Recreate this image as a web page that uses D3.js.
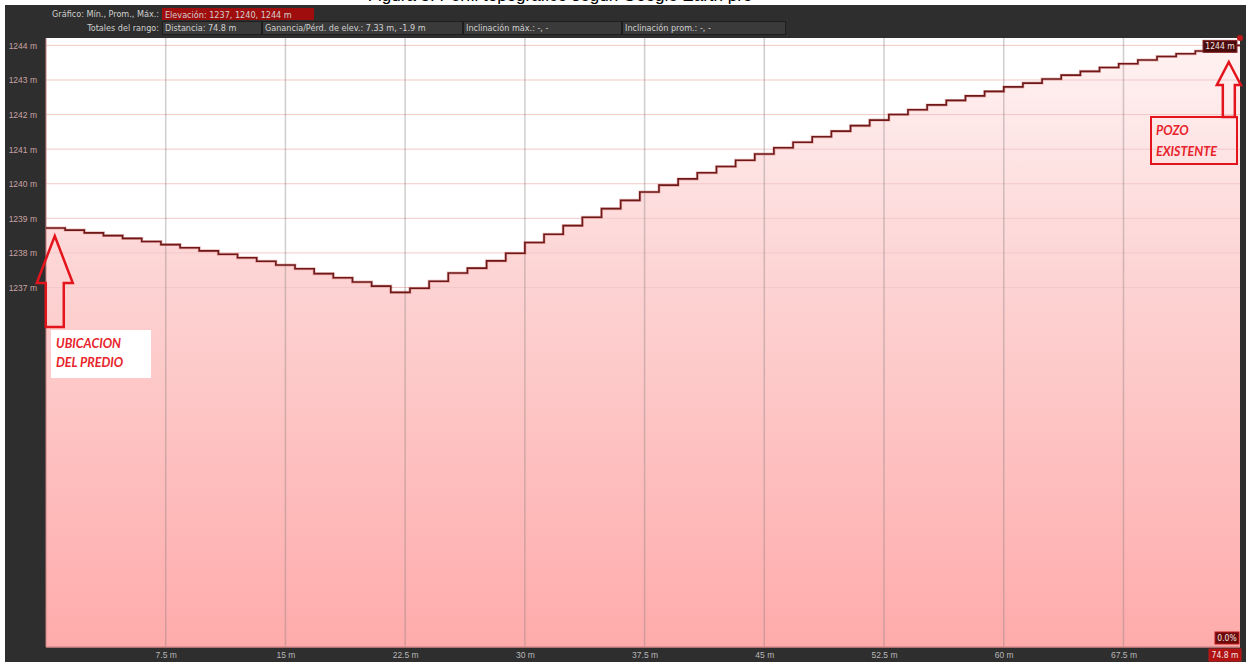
<!DOCTYPE html>
<html>
<head>
<meta charset="utf-8">
<script src="https://cdn.jsdelivr.net/npm/d3@7/dist/d3.min.js"></script>
<style>
  body { margin: 0; background: #fff; }
  svg { display: block; font-family: "Liberation Sans Narrow", "DejaVu Sans Condensed", "Liberation Sans", sans-serif; }
  .hdr { fill: #d0d0d0; font-size: 9px; }
  .tick text { font-size: 8.5px; }
</style>
</head>
<body>
<svg id="chart" width="1246" height="662"></svg>
<script>
// profile samples: distance (m) and elevation (m)
const distances = [0, 1.2, 2.4, 3.6, 4.8, 6.0, 7.2, 8.4, 9.6, 10.8, 12.0, 13.2, 14.4, 15.6, 16.8, 18.0, 19.2, 20.4, 21.6,
  22.8, 24.0, 25.2, 26.4, 27.6, 28.8, 30.0, 31.2, 32.4, 33.6, 34.8, 36.0, 37.2, 38.4, 39.6, 40.8, 42.0, 43.2, 44.4,
  45.6, 46.8, 48.0, 49.2, 50.4, 51.6, 52.8, 54.0, 55.2, 56.4, 57.6, 58.8, 60.0, 61.2, 62.4, 63.6, 64.8, 66.0, 67.2,
  68.4, 69.6, 70.8, 72.0, 73.2, 74.4, 74.8];
const elevations = [1238.72, 1238.66, 1238.58, 1238.50, 1238.42, 1238.33, 1238.24, 1238.15, 1238.06, 1237.96, 1237.86,
  1237.76, 1237.65, 1237.54, 1237.40, 1237.28, 1237.16, 1237.04, 1236.86,
  1236.98, 1237.18, 1237.42, 1237.56, 1237.77, 1237.99, 1238.30, 1238.54, 1238.79, 1239.03, 1239.28, 1239.52, 1239.76,
  1239.96, 1240.14, 1240.32, 1240.50, 1240.68, 1240.86, 1241.04, 1241.20, 1241.36, 1241.52, 1241.68, 1241.84, 1242.00,
  1242.14, 1242.28, 1242.41, 1242.54, 1242.67, 1242.80, 1242.91, 1243.03, 1243.14, 1243.25, 1243.36, 1243.47, 1243.58,
  1243.68, 1243.76, 1243.84, 1243.92, 1244.00, 1244.00];

const xTicks = [7.5, 15, 22.5, 30, 37.5, 45, 52.5, 60, 67.5];
const yTicks = [1237, 1238, 1239, 1240, 1241, 1242, 1243, 1244];
const totalDist = 74.8;

const headerRow1 = [{ text: 'Elevación: 1237, 1240, 1244 m', w: 152 }];
const headerRow2 = [
  { text: 'Distancia: 74.8 m', w: 100 },
  { text: 'Ganancia/Pérd. de elev.: 7.33 m, -1.9 m', w: 201 },
  { text: 'Inclinación máx.: -, -', w: 159 },
  { text: 'Inclinación prom.: -, -', w: 164 }
];

const W = 1246, H = 662;
const plotL = 46, plotR = 1240, plotT = 38, plotB = 647;

const svg = d3.select('#chart');
const data = distances.map((d, i) => ({ d: d, e: elevations[i] }));

// dark frame
svg.append('rect').attr('x', 5).attr('y', 5).attr('width', W - 5).attr('height', H - 5).attr('fill', '#2e2e2e');

// title, cut by the top edge as in the source image
svg.append('text')
  .attr('x', 560).attr('y', 1)
  .attr('text-anchor', 'middle')
  .style('font-family', 'Liberation Sans, sans-serif')
  .style('font-size', '17px')
  .attr('fill', '#000')
  .text('Figura 3. Perfil topográfico según Google Earth pro');

const x = d3.scaleLinear().domain([0, totalDist]).range([plotL, plotR]);
const y = d3.scaleLinear().domain([1237, 1244]).range([287.5, 45.4]);

const defs = svg.append('defs');
const grad = defs.append('linearGradient')
  .attr('id', 'fillGrad')
  .attr('gradientUnits', 'userSpaceOnUse')
  .attr('x1', 0).attr('y1', plotT).attr('x2', 0).attr('y2', plotB);
grad.append('stop').attr('offset', '0%').attr('stop-color', '#fff3f3');
grad.append('stop').attr('offset', '40%').attr('stop-color', '#fdd3d3');
grad.append('stop').attr('offset', '100%').attr('stop-color', '#ffabab');

// plot background
svg.append('rect')
  .attr('x', plotL).attr('y', plotT)
  .attr('width', plotR - plotL).attr('height', plotB - plotT)
  .attr('fill', '#fff');

// area under profile
const area = d3.area()
  .x(d => x(d.d))
  .y0(plotB)
  .y1(d => y(d.e))
  .curve(d3.curveStepAfter);
svg.append('path').datum(data).attr('d', area).attr('fill', 'url(#fillGrad)');

// horizontal grid
svg.append('g')
  .selectAll('line')
  .data(yTicks)
  .enter()
  .append('line')
  .attr('x1', plotL).attr('x2', plotR)
  .attr('y1', d => y(d)).attr('y2', d => y(d))
  .attr('stroke', '#f3c8c8')
  .attr('stroke-width', 1);

// vertical grid
svg.append('g')
  .selectAll('line')
  .data(xTicks)
  .enter()
  .append('line')
  .attr('x1', d => x(d)).attr('x2', d => x(d))
  .attr('y1', plotT).attr('y2', plotB)
  .attr('stroke', 'rgba(140,130,130,0.4)')
  .attr('stroke-width', 1.5);

// plot edges
svg.append('line').attr('x1', plotL).attr('x2', plotL).attr('y1', plotT).attr('y2', plotB)
  .attr('stroke', '#c98080').attr('stroke-width', 1);
svg.append('line').attr('x1', plotL).attr('x2', plotR).attr('y1', plotB).attr('y2', plotB)
  .attr('stroke', '#d88a8a').attr('stroke-width', 1.5);

// profile line
const line = d3.line()
  .x(d => x(d.d))
  .y(d => y(d.e))
  .curve(d3.curveStepAfter);
svg.append('path').datum(data)
  .attr('d', line)
  .attr('fill', 'none')
  .attr('stroke', '#c04040')
  .attr('stroke-width', 3)
  .attr('opacity', 0.35);
svg.append('path').datum(data)
  .attr('d', line)
  .attr('fill', 'none')
  .attr('stroke', '#6e1818')
  .attr('stroke-width', 1.6);

// end marker
svg.append('circle')
  .attr('cx', x(totalDist)).attr('cy', plotT)
  .attr('r', 3)
  .attr('fill', '#c01818');

// Y axis
const yAxis = svg.append('g')
  .attr('transform', 'translate(' + (plotL - 9) + ',0)')
  .call(d3.axisLeft(y).tickValues(yTicks).tickSize(0).tickFormat(d => d + ' m'));
yAxis.select('.domain').remove();
yAxis.selectAll('text').attr('fill', '#c9a3a3').attr('x', 0).attr('dy', '0.35em');

// X axis
const xAxis = svg.append('g')
  .attr('transform', 'translate(0,' + plotB + ')')
  .call(d3.axisBottom(x).tickValues(xTicks).tickSize(0).tickFormat(d => d + ' m'));
xAxis.select('.domain').remove();
xAxis.selectAll('text').attr('fill', '#b8b8b8').attr('y', 5);

// header
svg.append('text').attr('class', 'hdr').attr('x', 159).attr('y', 17)
  .attr('text-anchor', 'end').text('Gráfico: Mín., Prom., Máx.:');
svg.append('text').attr('class', 'hdr').attr('x', 159).attr('y', 30.5)
  .attr('text-anchor', 'end').text('Totales del rango:');

let hx = 162;
headerRow1.forEach(b => {
  svg.append('rect').attr('x', hx).attr('y', 8).attr('width', b.w).attr('height', 12)
    .attr('fill', '#a00d0d');
  svg.append('text').attr('class', 'hdr').attr('x', hx + 3).attr('y', 17.5).attr('fill', '#f0e0e0').text(b.text);
  hx += b.w;
});
hx = 162;
headerRow2.forEach(b => {
  svg.append('rect').attr('x', hx + 0.5).attr('y', 21.5).attr('width', b.w - 1).attr('height', 13)
    .attr('fill', '#3a3a3a').attr('stroke', '#1e1e1e');
  svg.append('text').attr('class', 'hdr').attr('x', hx + 3).attr('y', 31).text(b.text);
  hx += b.w;
});

// value badges
function badge(bx, by, w, h, txt, fill, stroke) {
  svg.append('rect').attr('x', bx).attr('y', by).attr('width', w).attr('height', h)
    .attr('fill', fill).attr('stroke', stroke).attr('stroke-width', 1);
  svg.append('text').attr('x', bx + w / 2).attr('y', by + h / 2).attr('dy', '0.35em')
    .attr('text-anchor', 'middle').attr('fill', '#f4e6e6').style('font-size', '8.5px').text(txt);
}
badge(x(totalDist) - 37, y(1244) - 5, 34, 12, elevations[elevations.length - 1].toFixed(0) + ' m', '#4a0c0c', '#8a2a2a');
badge(plotR - 25, 632, 24, 12, '0.0%', '#6a0a0a', '#c01818');
badge(plotR - 31, 649, 32, 12, totalDist + ' m', '#b01212', '#c01818');

// annotation arrows
function upArrow(tipX, tipY, headY, headHalf, shaftHalf, baseY) {
  const pts = [
    [tipX, tipY], [tipX + headHalf, headY], [tipX + shaftHalf, headY], [tipX + shaftHalf, baseY],
    [tipX - shaftHalf, baseY], [tipX - shaftHalf, headY], [tipX - headHalf, headY]
  ];
  svg.append('path')
    .attr('d', d3.line()(pts) + 'Z')
    .attr('fill', 'none')
    .attr('stroke', '#e4141c')
    .attr('stroke-width', 2.5)
    .attr('stroke-linejoin', 'miter');
}
upArrow(x(0.55), 236, 283, 18, 9, 327);
upArrow(x(74.1), 62, 85, 12, 6, 117);

// annotation boxes
svg.append('rect').attr('x', 51).attr('y', 330).attr('width', 100).attr('height', 48).attr('fill', '#fff');
const noteStyle = t => t.attr('fill', '#e8232b').style('font-family', 'Lato, "Open Sans", sans-serif')
  .style('font-weight', 'bold').style('font-style', 'italic').style('font-size', '12.5px');
noteStyle(svg.append('text').attr('x', 56).attr('y', 348).text('UBICACION'));
noteStyle(svg.append('text').attr('x', 56).attr('y', 367).text('DEL PREDIO'));

svg.append('rect').attr('x', 1151).attr('y', 117).attr('width', 86).attr('height', 47)
  .attr('fill', 'none').attr('stroke', '#e4141c').attr('stroke-width', 2);
noteStyle(svg.append('text').attr('x', 1156).attr('y', 135).text('POZO'));
noteStyle(svg.append('text').attr('x', 1156).attr('y', 156).text('EXISTENTE'));
</script>
</body>
</html>
